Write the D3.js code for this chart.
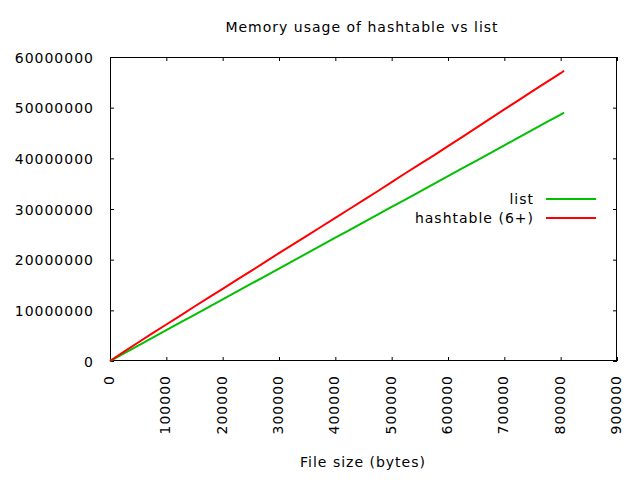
<!DOCTYPE html>
<html>
<head>
<meta charset="utf-8">
<script src="https://cdn.jsdelivr.net/npm/d3@7"></script>
<style>
body { margin: 0; background: #fff; }
text { font-family: "DejaVu Sans", sans-serif; font-size: 14px; letter-spacing: 1px; fill: #000; }
</style>
</head>
<body>
<div class="container"></div>
<script>
// file sizes (bytes)
var sizes = [0, 25000, 50000, 75000, 100000, 125000, 150000, 175000, 200000, 225000,
	250000, 275000, 300000, 325000, 350000, 375000, 400000, 425000, 450000, 475000,
	500000, 525000, 550000, 575000, 600000, 625000, 650000, 675000, 700000, 725000,
	750000, 775000, 800000, 806000];

// memory used by list (bytes)
var listMem = [0, 1520000, 3050000, 4560000, 6080000, 7610000, 9120000, 10650000, 12160000, 13690000,
	15200000, 16720000, 18250000, 19760000, 21280000, 22800000, 24330000, 25840000, 27360000, 28890000,
	30400000, 31920000, 33450000, 34960000, 36480000, 38010000, 39520000, 41040000, 42570000, 44080000,
	45600000, 47130000, 48640000, 49000000];

// memory used by hashtable (bytes)
var hashMem = [0, 1850000, 3650000, 5450000, 7200000, 8950000, 10750000, 12500000, 14250000, 16000000,
	17750000, 19500000, 21300000, 23000000, 24750000, 26500000, 28250000, 30000000, 31750000, 33500000,
	35300000, 37100000, 38850000, 40600000, 42400000, 44200000, 46000000, 47850000, 49650000, 51450000,
	53250000, 55050000, 56800000, 57300000];

var xTicks = [0, 100000, 200000, 300000, 400000, 500000, 600000, 700000, 800000, 900000];
var yTicks = [0, 10000000, 20000000, 30000000, 40000000, 50000000, 60000000];

var series = [
	{ name: "list", values: listMem, color: "#00c000" },
	{ name: "hashtable (6+)", values: hashMem, color: "#ff0000" }
];

var charter = function () {
	var width = 640, height = 480;
	var left = 110, right = 617, top = 57, bottom = 361;

	var init = function () {
		var paper = d3.select('.container').append("svg")
			.attr("width", width)
			.attr("height", height);

		paper.append("rect").attr("width", width).attr("height", height).attr("fill", "#fff");

		var x = d3.scaleLinear().domain([0, 900000]).range([left, right]);
		var y = d3.scaleLinear().domain([0, 60000000]).range([bottom, top]);

		// ticks on all four sides, pointing inward
		var fmt = d3.format("d");
		var yAxis = paper.append("g").attr("transform", "translate(" + left + ",0)")
			.call(d3.axisLeft(y).tickValues(yTicks).tickSize(-4).tickSizeOuter(0).tickPadding(16).tickFormat(fmt));
		yAxis.selectAll("text").attr("font-family", null).attr("font-size", null).attr("dy", "0.36em");

		paper.append("g").attr("transform", "translate(" + right + ",0)")
			.call(d3.axisRight(y).tickValues(yTicks).tickSize(-4).tickSizeOuter(0).tickFormat(""));
		paper.append("g").attr("transform", "translate(0," + bottom + ")")
			.call(d3.axisBottom(x).tickValues(xTicks).tickSize(-4).tickSizeOuter(0).tickFormat(""));
		paper.append("g").attr("transform", "translate(0," + top + ")")
			.call(d3.axisTop(x).tickValues(xTicks).tickSize(-4).tickSizeOuter(0).tickFormat(""));

		paper.selectAll(".domain").remove();
		paper.selectAll(".tick line").attr("stroke", "#000");

		// rotated x tick labels
		paper.selectAll(".xlabel")
			.data(xTicks)
			.enter().append("text")
			.attr("class", "xlabel")
			.attr("text-anchor", "end")
			.attr("transform", function (d) {
				return "translate(" + (x(d) + 4) + "," + (bottom + 14) + ") rotate(-90)";
			})
			.text(fmt);

		// border
		paper.append("rect")
			.attr("x", left + 0.5).attr("y", top + 0.5)
			.attr("width", right - left - 1).attr("height", bottom - top - 1)
			.attr("fill", "none").attr("stroke", "#000");

		var line = d3.line()
			.x(function (d, i) { return x(sizes[i]); })
			.y(function (d) { return y(d); });

		paper.selectAll(".series")
			.data(series)
			.enter().append("path")
			.attr("class", "series")
			.attr("fill", "none")
			.attr("stroke", function (d) { return d.color; })
			.attr("stroke-width", 2)
			.attr("d", function (d) { return line(d.values); });

		// legend
		var legend = paper.selectAll(".legend")
			.data(series)
			.enter().append("g")
			.attr("class", "legend")
			.attr("transform", function (d, i) { return "translate(0," + (199 + i * 19) + ")"; });
		legend.append("text")
			.attr("x", 534).attr("y", 5)
			.attr("text-anchor", "end")
			.text(function (d) { return d.name; });
		legend.append("line")
			.attr("x1", 546).attr("x2", 596)
			.attr("stroke", function (d) { return d.color; })
			.attr("stroke-width", 2);

		paper.append("text")
			.attr("x", 362).attr("y", 32)
			.attr("text-anchor", "middle")
			.text("Memory usage of hashtable vs list");

		paper.append("text")
			.attr("x", 363).attr("y", 467)
			.attr("text-anchor", "middle")
			.text("File size (bytes)");
	};

	return Object.freeze({ init: init });
};

var c = charter();
c.init();
</script>
</body>
</html>
